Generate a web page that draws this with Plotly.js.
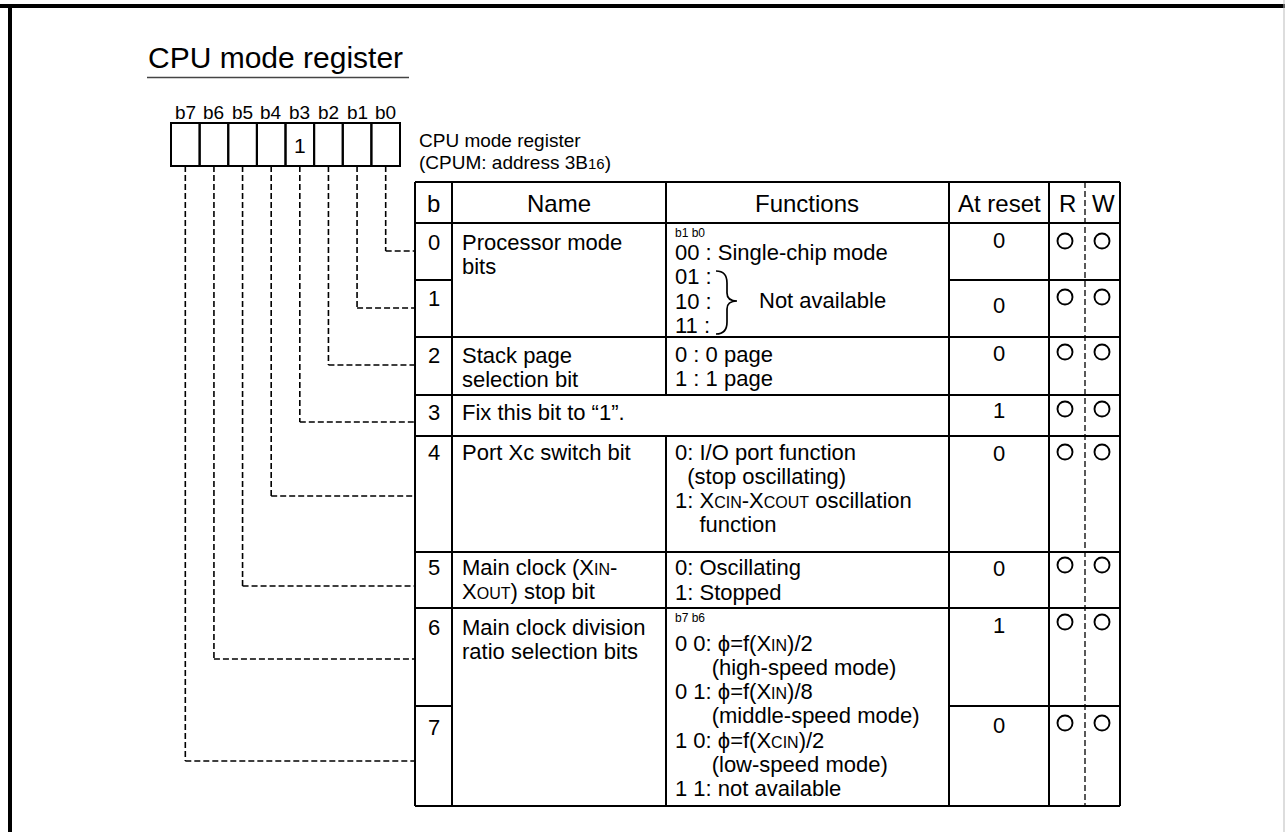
<!DOCTYPE html>
<html><head><meta charset="utf-8">
<script src="https://cdn.plot.ly/plotly-3.0.1.min.js"></script>
<style>html,body{margin:0;padding:0;background:#fff;overflow:hidden}</style>
</head><body><div id="chart" style="width:1285px;height:832px"></div>
<script>
// ---------- content (data) ----------
const sc = s => '<span style="font-size:16px">' + s + '</span>';
const chartTitle = 'CPU mode register';
const registerCaption = ['CPU mode register', '(CPUM: address 3B<span style="font-size:15px">16</span>)'];
const bitLabels = ['b7', 'b6', 'b5', 'b4', 'b3', 'b2', 'b1', 'b0'];
const bitFixedValues = ['', '', '', '', '1', '', '', ''];
const headers = ['b', 'Name', 'Functions', 'At reset', 'R', 'W'];
const bitNumbers = ['0', '1', '2', '3', '4', '5', '6', '7'];
const nameRows = [0, 2, 3, 4, 5, 6];
const nameLines = [
  ['Processor mode', 'bits'],
  ['Stack page', 'selection bit'],
  ['Fix this bit to \u201c1\u201d.'],
  ['Port Xc switch bit'],
  ['Main clock (X' + sc('IN') + '-', 'X' + sc('OUT') + ') stop bit'],
  ['Main clock division', 'ratio selection bits']
];
const funcRows = [0, 2, 4, 5, 6];
const funcSmallHeads = ['b1 b0', '', '', '', 'b7 b6'];
const nb = n => '\u00a0'.repeat(n);
const funcLines = [
  ['00 : Single-chip mode', '01 :', '10 :', '11 :'],
  ['0 : 0 page', '1 : 1 page'],
  ['0: I/O port function', nb(2) + '(stop oscillating)', '1: X' + sc('CIN') + '-X' + sc('COUT') + ' oscillation', nb(4) + 'function'],
  ['0: Oscillating', '1: Stopped'],
  ['0 0: \u03d5=f(X' + sc('IN') + ')/2', nb(6) + '(high-speed mode)', '0 1: \u03d5=f(X' + sc('IN') + ')/8', nb(6) + '(middle-speed mode)',
   '1 0: \u03d5=f(X' + sc('CIN') + ')/2', nb(6) + '(low-speed mode)', '1 1: not available']
];
const braceLabel = 'Not available';
const resetValues = ['0', '0', '0', '1', '0', '0', '1', '0'];
const readable = [1, 1, 1, 1, 1, 1, 1, 1];
const writable = [1, 1, 1, 1, 1, 1, 1, 1];

// ---------- layout geometry ----------
const FONT = 'Liberation Sans, Arial, Helvetica, sans-serif';
const BODY = 22, HEAD = 24;
const cellX0 = 171, cellW = 28.625, cellY0 = 123, cellY1 = 166;
const colX = [415, 452, 666, 949, 1049, 1120];
const rwDashX = 1085;
const tTop = 182, tHead = 223, tBot = 806;
const rowTopY = [223, 280, 337, 395, 436, 552, 608, 706];
const leaderY = [251, 308, 365, 422, 496, 586, 659, 761];
const rowTextY = [242, 298, 355, 412, 452, 567, 627, 727];
const resetY = [240, 305, 353, 410, 453, 568, 625, 725];
const circleY = [241, 297, 352, 409, 452, 565, 622, 723];
const rX = 1065, wX = 1102;
const funcStartY = [252, 354, 452, 567, 643];
const funcPitch = [24.5, 24.5, 24, 25, 24.3];
const smallHeadY = [233, 0, 0, 0, 618];
const nameStartY = [242, 355, 412, 452, 567, 627];
const namePitch = 24.5;

const shapes = [];
const ann = [];
const line = (x0, y0, x1, y1, w, dash, color) => shapes.push({type: 'line', xref: 'x', yref: 'y', x0, y0, x1, y1,
  line: {color: color || '#000', width: w, dash: dash || 'solid'}});
const txt = (x, y, text, size, xanchor) => ann.push({x, y, xref: 'x', yref: 'y', text, showarrow: false,
  xanchor: xanchor || 'left', yanchor: 'middle', font: {family: FONT, size, color: '#000'}});

// frame
line(0, 6, 1285, 6, 4);
line(10, 4, 10, 832, 4);
line(1284, 0, 1284, 832, 1, 'solid', '#bbb');

// title
txt(146, 57, chartTitle, 30);
line(147, 77.5, 409, 77.5, 1.5, 'solid', '#444');

// register cells
bitLabels.forEach((lab, i) => {
  const x0 = cellX0 + i * cellW, cx = x0 + cellW / 2;
  shapes.push({type: 'rect', xref: 'x', yref: 'y', x0, x1: x0 + cellW, y0: cellY0, y1: cellY1, line: {color: '#000', width: 2}});
  txt(cx, 112, lab, 19, 'center');
  if (bitFixedValues[i]) txt(cx, 145, bitFixedValues[i], 21, 'center');
  const bit = 7 - i;
  line(cx, cellY1, cx, leaderY[bit], 1.6, '6px,3px');
  line(cx, leaderY[bit], colX[0], leaderY[bit], 1.6, '6px,3px');
});
txt(417, 140, registerCaption[0], 19);
txt(417, 162, registerCaption[1], 19);

// table frame
const T = 2;
line(colX[0], tTop, colX[5], tTop, T);
line(colX[0], tBot, colX[5], tBot, T);
line(colX[0], tHead, colX[5], tHead, T);
[0, 1, 3, 4, 5].forEach(c => line(colX[c], tTop, colX[c], tBot, T));
line(colX[2], tTop, colX[2], rowTopY[3], T);
line(colX[2], rowTopY[4], colX[2], tBot, T);
line(rwDashX, tTop, rwDashX, tBot, 1.3, '6px,3px');
// row separators
[2, 3, 4, 5, 6].forEach(r => line(colX[0], rowTopY[r], colX[5], rowTopY[r], T));
[1, 7].forEach(r => { line(colX[0], rowTopY[r], colX[1], rowTopY[r], T); line(colX[3], rowTopY[r], colX[5], rowTopY[r], T); });

// header text
const headX = [433.5, 559, 807, 999, 1067, 1103];
headers.forEach((h, i) => txt(headX[i], 203, h, HEAD, 'center'));

// bit numbers and reset values
bitNumbers.forEach((b, r) => {
  txt(433.5, rowTextY[r], b, BODY, 'center');
  txt(999, resetY[r], resetValues[r], BODY, 'center');
});

// names
nameLines.forEach((lines, k) => lines.forEach((l, j) => txt(460, nameStartY[k] + j * namePitch, l, BODY)));

// functions
funcLines.forEach((lines, k) => {
  if (funcSmallHeads[k]) txt(673, smallHeadY[k], funcSmallHeads[k], 12);
  lines.forEach((l, j) => txt(673, funcStartY[k] + j * funcPitch[k], l, BODY));
});
txt(757, 300, braceLabel, BODY);
shapes.push({type: 'path', xref: 'x', yref: 'y',
  path: 'M716,271 Q727,271 727,283 L727,293 Q727,301 737,301 Q727,301 727,309 L727,322 Q727,334 716,334',
  line: {color: '#000', width: 1.7}});

// R/W circles
const cx = [], cy = [];
readable.forEach((v, r) => { if (v) { cx.push(rX); cy.push(circleY[r]); } });
writable.forEach((v, r) => { if (v) { cx.push(wX); cy.push(circleY[r]); } });

const trace = {x: cx, y: cy, type: 'scatter', mode: 'markers', hoverinfo: 'skip',
  marker: {symbol: 'circle-open', size: 15, color: '#000', line: {width: 1.9, color: '#000'}}};

const layout = {
  width: 1285, height: 832, margin: {l: 0, r: 0, t: 0, b: 0},
  paper_bgcolor: '#fff', plot_bgcolor: '#fff', showlegend: false,
  xaxis: {range: [0, 1285], visible: false, fixedrange: true},
  yaxis: {range: [832, 0], visible: false, fixedrange: true},
  shapes, annotations: ann
};
Plotly.newPlot('chart', [trace], layout, {staticPlot: true, displayModeBar: false});
</script></body></html>
